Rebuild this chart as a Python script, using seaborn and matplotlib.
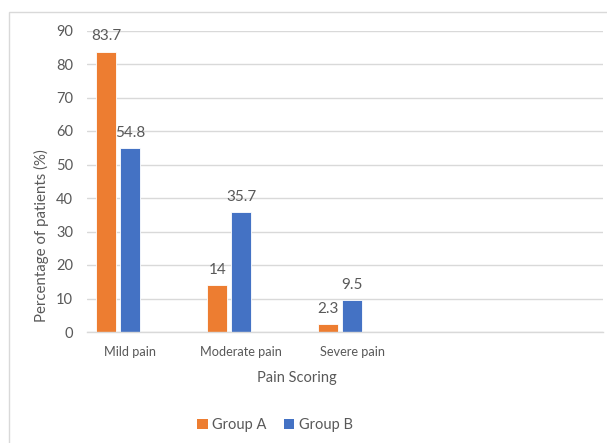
import numpy as np
import pandas as pd
import matplotlib
matplotlib.use("Agg")
import matplotlib.pyplot as plt
from matplotlib.patches import Patch, Rectangle
import seaborn as sns

# chart data
categories = ["Mild pain", "Moderate pain", "Severe pain"]
group_a = [83.7, 14, 2.3]
group_b = [54.8, 35.7, 9.5]
groups = ["Group A", "Group B"]
colors = ["#ED7D31", "#4472C4"]

text_color = "#595959"
grid_color = "#D9D9D9"

sns.set_theme(style="white")
plt.rcParams["font.family"] = ["Lato", "DejaVu Sans"]

df = pd.DataFrame({
    "category": categories * 2,
    "value": group_a + group_b,
    "group": [groups[0]] * 3 + [groups[1]] * 3,
})

fig = plt.figure(figsize=(6.07, 4.43), dpi=100)
ax = fig.add_axes([87 / 607, 1 - 332 / 443, (603 - 87) / 607, (332 - 30.5) / 443])

# third (empty) hue slot keeps Group B centred on the category, as in the original
hue_order = groups + ["(empty)"]
sns.barplot(data=df, x="category", y="value", hue="group", hue_order=hue_order,
            palette=dict(zip(hue_order, colors + ["#A5A5A5"])), saturation=1,
            width=0.65, gap=0.18, order=categories, legend=False,
            edgecolor="white", linewidth=0.6, ax=ax)

for cont, vals in zip(ax.containers[:2], [group_a, group_b]):
    ax.bar_label(cont, labels=[f"{v:g}" for v in vals], padding=6,
                 color=text_color, fontsize=11)

ax.set_xlim(-0.39, 4.26)
ax.set_ylim(0, 90)
ax.set_yticks(np.arange(0, 91, 10))
ax.yaxis.grid(True, color=grid_color, linewidth=1.0)
ax.set_axisbelow(True)
for s in ["left", "right", "top"]:
    ax.spines[s].set_visible(False)
ax.spines["bottom"].set_color(grid_color)
ax.spines["bottom"].set_linewidth(1.0)
ax.tick_params(axis="both", length=0, colors=text_color)
ax.tick_params(axis="y", pad=10, labelsize=10.5)
ax.tick_params(axis="x", pad=10, labelsize=9.2)
ax.set_xlabel("")
ax.set_ylabel("")

fig.text(41 / 607, 1 - 236 / 443, "Percentage of patients (%)", color=text_color,
         fontsize=10.8, rotation=90, ha="center", va="center")
fig.text(297 / 607, 1 - 378 / 443, "Pain Scoring", color=text_color, fontsize=10.5,
         ha="center", va="center")

handles = [Patch(facecolor=c, edgecolor="none") for c in colors]
fig.legend(handles, groups, loc="center", bbox_to_anchor=(275 / 607, 1 - 425 / 443),
           ncol=2, frameon=False, fontsize=10.5, labelcolor=text_color,
           handlelength=0.7, handleheight=0.7, handletextpad=0.3, columnspacing=1.2)

# chart area border (cropped at the right and bottom)
fig.patches.append(Rectangle((9 / 607, -0.05), 1.0, 1 - 12 / 443 + 0.05,
                             transform=fig.transFigure, fill=False,
                             edgecolor=grid_color, linewidth=1.0))

fig.savefig("out.png", dpi=100)
